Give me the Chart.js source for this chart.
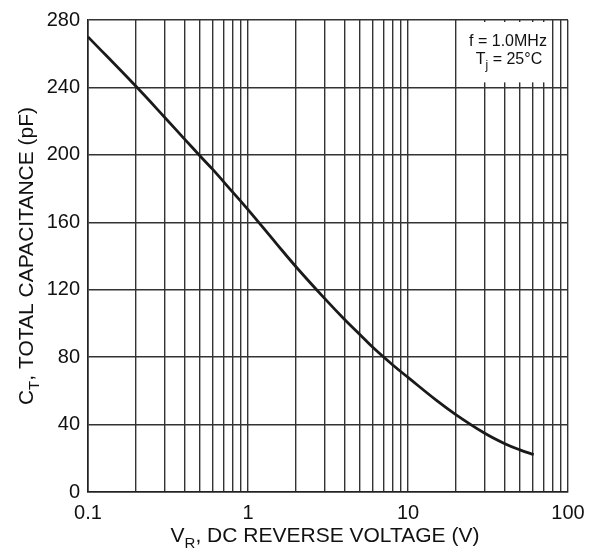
<!DOCTYPE html>
<html>
<head>
<meta charset="utf-8">
<script src="https://cdn.jsdelivr.net/npm/chart.js@4.4.1/dist/chart.umd.min.js"></script>
<style>
  html, body { margin: 0; padding: 0; background: #fff; }
  canvas { display: block; }
</style>
</head>
<body>
<canvas id="capChart" width="595" height="554"></canvas>
<script>
// reverse voltage (V) and total capacitance (pF)
const voltage = [0.1, 0.2, 0.3, 0.4, 0.5, 0.6, 0.8, 1, 1.5, 2, 3, 4, 5, 6, 8, 10, 15, 20, 30, 40, 50, 61];
const capacitance = [270, 240.5, 222.5, 209.5, 199.5, 191.5, 178, 167.5, 147.5, 133.5, 115, 102.5, 93.5, 86, 75.5, 68, 54.5, 45.8, 35, 28.8, 25, 22.2];

const xTickLabels = [0.1, 1, 10, 100];
const yTickLabels = [0, 40, 80, 120, 160, 200, 240, 280];
const noteLines = ["f = 1.0MHz", "Tj = 25°C"];

const FONT = "'Liberation Sans', Arial, sans-serif";
const GRID = "#333333";

// 1..9 per decade for the log grid
const xGrid = [];
for (let d = 0; d < xTickLabels.length - 1; d++) {
  for (let m = 1; m < 10; m++) {
    xGrid.push(Number((m * xTickLabels[d]).toPrecision(3)));
  }
}
xGrid.push(xTickLabels[xTickLabels.length - 1]);

// draws "main" + subscript + "rest", centred on (0,0) of current transform
function drawSubText(ctx, main, sub, rest, size, subSize, drop) {
  ctx.font = `${size}px ${FONT}`;
  const w1 = ctx.measureText(main).width;
  const w3 = ctx.measureText(rest).width;
  ctx.font = `${subSize}px ${FONT}`;
  const w2 = ctx.measureText(sub).width;
  let x = -(w1 + w2 + w3) / 2;
  ctx.textAlign = "left";
  ctx.textBaseline = "alphabetic";
  ctx.font = `${size}px ${FONT}`;
  ctx.fillText(main, x, 0);
  x += w1;
  ctx.font = `${subSize}px ${FONT}`;
  ctx.fillText(sub, x, drop);
  x += w2;
  ctx.font = `${size}px ${FONT}`;
  ctx.fillText(rest, x, 0);
}

const notePlugin = {
  id: "noteBox",
  beforeDatasetsDraw: (chart) => {
    const { ctx, chartArea, scales } = chart;
    const x0 = scales.x.getPixelForValue(20) + 1;
    const x1 = scales.x.getPixelForValue(75);
    const y0 = chartArea.top + 2;
    const y1 = scales.y.getPixelForValue(243);
    ctx.save();
    ctx.fillStyle = "#ffffff";
    ctx.fillRect(x0, y0, x1 - x0, y1 - y0);
    ctx.fillStyle = "#111";
    ctx.textAlign = "center";
    ctx.textBaseline = "alphabetic";
    ctx.font = `16px ${FONT}`;
    const cx = 508;
    ctx.fillText(noteLines[0], cx, chartArea.top + 26);
    ctx.translate(cx + 1, chartArea.top + 44);
    drawSubText(ctx, "T", "j", " = 25°C", 16, 12, 5);
    ctx.restore();
  },
  afterDraw: (chart) => {
    const { ctx, chartArea } = chart;
    ctx.save();
    ctx.fillStyle = "#111";
    // x axis title
    ctx.translate(325, 542);
    drawSubText(ctx, "V", "R", ", DC REVERSE VOLTAGE (V)", 21, 15, 6);
    ctx.restore();
    // y axis title
    ctx.save();
    ctx.fillStyle = "#111";
    ctx.translate(33, (chartArea.top + chartArea.bottom) / 2);
    ctx.rotate(-Math.PI / 2);
    drawSubText(ctx, "C", "T", ", TOTAL CAPACITANCE (pF)", 21, 15, 6);
    ctx.restore();
  },
};

const ctx = document.getElementById("capChart").getContext("2d");

new Chart(ctx, {
  type: "line",
  data: {
    datasets: [
      {
        data: voltage.map((v, i) => ({ x: v, y: capacitance[i] })),
        borderColor: "#1a1a1a",
        borderWidth: 2.8,
        pointRadius: 0,
        fill: false,
        tension: 0.4,
      },
    ],
  },
  options: {
    responsive: false,
    animation: false,
    layout: { padding: { top: 13, right: 27, left: 0, bottom: 0 } },
    plugins: {
      legend: { display: false },
      tooltip: { enabled: false },
    },
    scales: {
      x: {
        type: "logarithmic",
        min: 0.1,
        max: 100,
        afterBuildTicks: (scale) => {
          scale.ticks = xGrid.map((v) => ({ value: v }));
        },
        afterFit: (scale) => {
          scale.height = 62;
        },
        grid: { color: GRID, lineWidth: 1.4, drawTicks: false },
        border: { color: "#222", width: 1.6 },
        ticks: {
          autoSkip: false,
          maxRotation: 0,
          padding: 9,
          color: "#111",
          font: { family: FONT, size: 20 },
          callback: (value) => (xTickLabels.includes(value) ? String(value) : ""),
        },
      },
      y: {
        type: "linear",
        min: 0,
        max: 280,
        afterBuildTicks: (scale) => {
          scale.ticks = yTickLabels.map((v) => ({ value: v }));
        },
        afterFit: (scale) => {
          scale.width = 88;
        },
        grid: { color: GRID, lineWidth: 1.4, drawTicks: false },
        border: { color: "#222", width: 1.6 },
        ticks: {
          padding: 8,
          color: "#111",
          font: { family: FONT, size: 20 },
        },
      },
    },
  },
  plugins: [notePlugin],
});
</script>
</body>
</html>
